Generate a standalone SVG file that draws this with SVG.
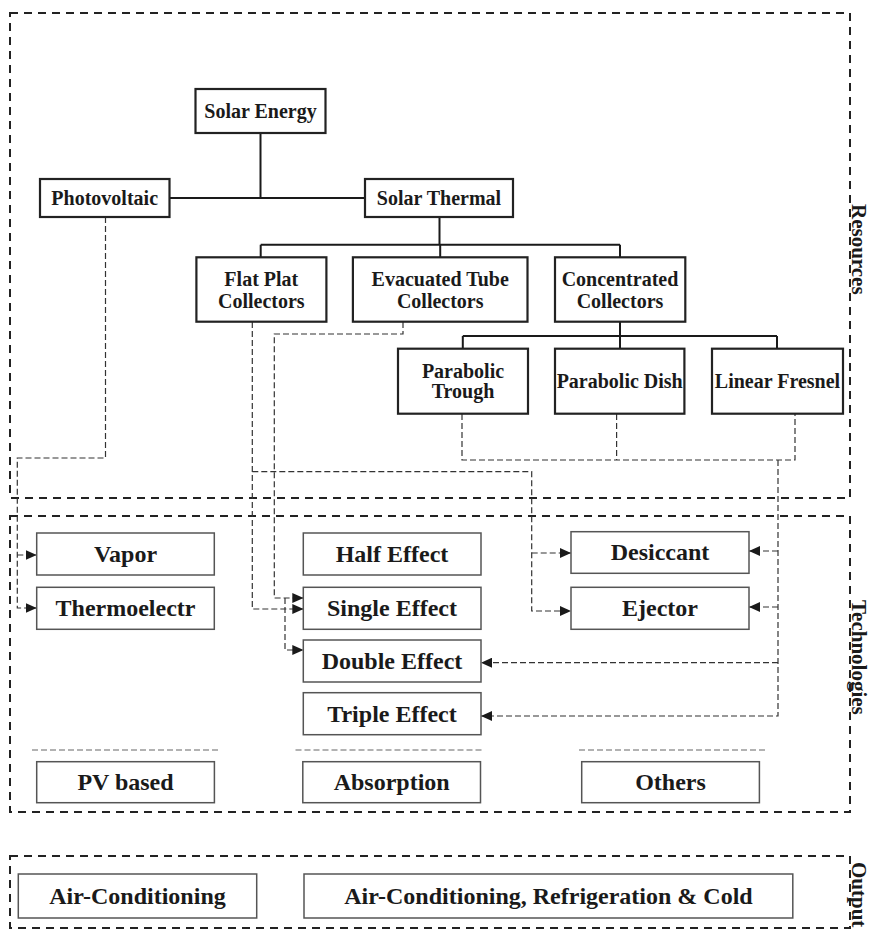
<svg xmlns="http://www.w3.org/2000/svg" width="872" height="934" viewBox="0 0 872 934">
<defs>
<style>
text{font-family:"Liberation Serif","Times New Roman",serif;font-weight:bold;fill:#1a1a1a;text-anchor:middle}
.t20{font-size:20px}
.t24{font-size:24px}
.side{font-size:21px;text-anchor:start}
.nb{fill:#fff;stroke:#222;stroke-width:2.2}
.tb{fill:#fff;stroke:#555;stroke-width:1.5}
.frame{fill:none;stroke:#222;stroke-width:2;stroke-dasharray:8 6}
.solid{fill:none;stroke:#1a1a1a;stroke-width:2}
.dash{fill:none;stroke:#333;stroke-width:1.2;stroke-dasharray:6 3}
.sep{fill:none;stroke:#999;stroke-width:1.3;stroke-dasharray:6 3}
</style>
<marker id="arr" markerUnits="userSpaceOnUse" markerWidth="11" markerHeight="10" refX="11" refY="5" orient="auto">
<path d="M0,0 L11,5 L0,10 z" fill="#1a1a1a"/>
</marker>
</defs>
<rect width="872" height="934" fill="#fff"/>

<g id="frames">
<rect class="frame" x="10" y="13" width="840" height="485"/>
<rect class="frame" x="10" y="516" width="840" height="296"/>
<rect class="frame" x="10" y="856" width="840" height="72"/>
<text class="side" transform="translate(852,204) rotate(90)">Resources</text>
<text class="side" transform="translate(852,600) rotate(90)">Technologies</text>
<text class="side" transform="translate(852,862) rotate(90)">Output</text>
</g>

<g id="separators">
<path class="sep" d="M32 750 H220.5 M295.5 750 H483 M579 750 H766.7"/>
</g>

<g id="connectors">
<path class="solid" d="M260.5 133 V198 M169.5 198 H365 M439.5 217 V244.7 M260.7 244.7 H620 M260.7 244.7 V257 M440.2 244.7 V257 M620 244.7 V257 M620 322 V336 M462.8 336 H777 M462.8 336 V349 M620 336 V349 M777 336 V349"/>
<path class="dash" d="M105.5 217 V458 H17.3 V608 H36.7" marker-end="url(#arr)"/>
<path class="dash" d="M17.3 555 H36.7" marker-end="url(#arr)"/>
<path class="dash" d="M252.3 322 V609 H303.3" marker-end="url(#arr)"/>
<path class="dash" d="M252.3 471.7 H531.7 V611 H571" marker-end="url(#arr)"/>
<path class="dash" d="M531.7 553 H571" marker-end="url(#arr)"/>
<path class="dash" d="M403 322 V334 H274.3 V598 H303.3" marker-end="url(#arr)"/>
<path class="dash" d="M285 598 V650 H303.3" marker-end="url(#arr)"/>
<path class="dash" d="M462 414 V460 H795 V414 M616.6 414 V460"/>
<path class="dash" d="M778 460 V716 H481" marker-end="url(#arr)"/>
<path class="dash" d="M778 551 H749" marker-end="url(#arr)"/>
<path class="dash" d="M778 607 H749" marker-end="url(#arr)"/>
<path class="dash" d="M778 662.7 H481" marker-end="url(#arr)"/>
</g>

<g id="solar-energy"><rect class="nb" x="195.5" y="89" width="130" height="44"/><text class="t20" x="260.5" y="118">Solar Energy</text></g>
<g id="photovoltaic"><rect class="nb" x="40" y="179" width="129.5" height="38"/><text class="t20" x="104.7" y="205">Photovoltaic</text></g>
<g id="solar-thermal"><rect class="nb" x="365" y="179" width="148" height="38"/><text class="t20" x="439" y="205">Solar Thermal</text></g>
<g id="flat-plat"><rect class="nb" x="196.4" y="257.3" width="130" height="64.4"/><text class="t20" x="261.3" y="286">Flat Plat</text><text class="t20" x="261.3" y="308">Collectors</text></g>
<g id="evacuated-tube"><rect class="nb" x="352.9" y="257.3" width="174.6" height="64.4"/><text class="t20" x="440.2" y="286">Evacuated Tube</text><text class="t20" x="440.2" y="308">Collectors</text></g>
<g id="concentrated"><rect class="nb" x="555" y="257.3" width="130.3" height="64.4"/><text class="t20" x="620" y="286">Concentrated</text><text class="t20" x="620" y="308">Collectors</text></g>
<g id="parabolic-trough"><rect class="nb" x="398" y="348.7" width="130" height="65"/><text class="t20" x="463" y="378">Parabolic</text><text class="t20" x="463" y="398">Trough</text></g>
<g id="parabolic-dish"><rect class="nb" x="555" y="348.7" width="129.4" height="65"/><text class="t20" x="619.7" y="388">Parabolic Dish</text></g>
<g id="linear-fresnel"><rect class="nb" x="712" y="348.7" width="131" height="65"/><text class="t20" x="777.5" y="388">Linear Fresnel</text></g>

<g id="vapor"><rect class="tb" x="36.7" y="533" width="177.6" height="42"/><text class="t24" x="125.5" y="562">Vapor</text></g>
<g id="thermoelectr"><rect class="tb" x="36.7" y="587.3" width="177.6" height="42"/><text class="t24" x="125.5" y="616">Thermoelectr</text></g>
<g id="half-effect"><rect class="tb" x="303.3" y="533" width="177.7" height="42"/><text class="t24" x="392" y="562">Half Effect</text></g>
<g id="single-effect"><rect class="tb" x="303.3" y="587.3" width="177.7" height="42"/><text class="t24" x="392" y="616">Single Effect</text></g>
<g id="double-effect"><rect class="tb" x="303.3" y="640" width="177.7" height="42"/><text class="t24" x="392" y="669">Double Effect</text></g>
<g id="triple-effect"><rect class="tb" x="303.3" y="692.7" width="177.7" height="42"/><text class="t24" x="392" y="722">Triple Effect</text></g>
<g id="desiccant"><rect class="tb" x="571" y="531.7" width="178" height="41.6"/><text class="t24" x="660" y="560">Desiccant</text></g>
<g id="ejector"><rect class="tb" x="571" y="587.3" width="178" height="42"/><text class="t24" x="660" y="616">Ejector</text></g>
<g id="pv-based"><rect class="tb" x="36.7" y="761.7" width="177.7" height="41"/><text class="t24" x="125.5" y="790">PV based</text></g>
<g id="absorption"><rect class="tb" x="302.8" y="761.7" width="177.7" height="41"/><text class="t24" x="391.7" y="790">Absorption</text></g>
<g id="others"><rect class="tb" x="581.7" y="761.7" width="177.7" height="41"/><text class="t24" x="670.5" y="790">Others</text></g>

<g id="air-conditioning"><rect class="tb" x="18.3" y="874" width="238.4" height="44"/><text class="t24" x="137.5" y="904">Air-Conditioning</text></g>
<g id="ac-refrigeration-cold"><rect class="tb" x="304" y="874" width="488.8" height="44"/><text class="t24" x="548.5" y="904">Air-Conditioning, Refrigeration &amp; Cold</text></g>
</svg>
